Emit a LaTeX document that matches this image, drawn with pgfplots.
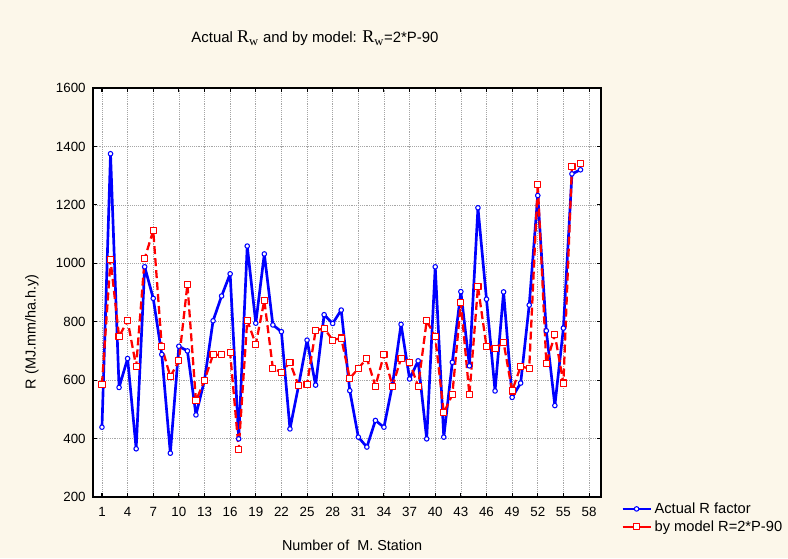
\documentclass[border=0pt]{standalone}
\usepackage{pgfplots}
\pgfplotsset{compat=1.18}
\usepackage{fontspec}
\setmainfont{Liberation Sans}
\newfontfamily\serifR{Liberation Serif}
\definecolor{paper}{HTML}{FCF7EA}
\definecolor{actblue}{HTML}{0000FF}
\definecolor{modred}{HTML}{FF0000}

\pgfplotstableread{
st act model
1 439 586
2 1375 1012
3 575 749
4 674 804
5 365 647
6 988 1017
7 880 1112
8 688 714
9 350 612
10 716 666
11 700 928
12 481 529
13 600 600
14 803 687
15 888 687
16 964 694
17 399 363
18 1059 805
19 795 723
20 1032 873
21 789 640
22 766 627
23 433 661
24 580 581
25 737 586
26 583 769
27 824 778
28 794 737
29 840 744
30 564 606
31 405 640
32 371 675
33 462 579
34 439 688
35 585 579
36 791 675
37 604 661
38 666 579
39 399 803
40 988 749
41 405 488
42 661 550
43 903 865
44 649 550
45 1190 920
46 877 715
47 563 708
48 902 729
49 541 563
50 590 647
51 857 640
52 1232 1271
53 769 658
54 513 755
55 778 590
56 1306 1332
57 1320 1341
}\stations

\begin{document}
\begin{tikzpicture}
\fill[paper] (-69.75pt,-45.75pt) rectangle (521.25pt,372.75pt);
\fill[white] (0,0) rectangle (381pt,306.75pt);
\begin{axis}[
  at={(0,0)}, anchor=south west,
  scale only axis, width=381pt, height=306.75pt,
  xmin=-0.05, xmax=59.4, ymin=200, ymax=1600,
  xtick={1,4,...,58}, ytick={200,400,...,1600},
  tick align=inside, major tick length=3pt,
  tick style={black, line width=0.8pt},
  axis line style={black, line width=1.5pt},
  grid=major, grid style={gray!70, densely dotted, line width=0.5pt},
  tick label style={font=\fontsize{10}{12}\selectfont},
  /pgf/number format/assume math mode=true,
  /pgf/number format/1000 sep={},
  xticklabel style={yshift=-4pt},
  yticklabel style={xshift=-2pt},
  xlabel={Number of\ \ M. Station},
  ylabel={R (MJ.mm/ha.h.y)},
  label style={font=\fontsize{10.8}{13}\selectfont},
  xlabel style={at={(rel axis cs:0.51,-0.1174)}, anchor=center},
  ylabel style={at={(rel axis cs:-0.1201,0.4035)}, anchor=center},
  title={Actual {\serifR\fontsize{13.5}{15}\selectfont R\textsubscript{w}} and by model: {\serifR\fontsize{13.5}{15}\selectfont R\textsubscript{w}}=2*P-90},
  title style={at={(rel axis cs:0.437,1.103)}, anchor=center, font=\fontsize{11.2}{13}\selectfont},
  legend style={at={(rel axis cs:1,0)}, anchor=north west, xshift=14pt, yshift=-1pt,
    draw=none, fill=none, font=\fontsize{11}{13}\selectfont, row sep=0pt,
    inner sep=1pt, nodes={inner sep=2pt}},
  legend cell align=left,
  legend image code/.code={
    \draw[#1, solid, mark repeat=2, mark phase=2] plot coordinates {(0pt,0pt) (10.5pt,0pt) (21pt,0pt)};},
]
\addplot[actblue, line width=2pt, line join=round, mark=*, mark size=1.7pt,
  mark options={solid, fill=white, draw=actblue, line width=0.8pt}]
  table[x=st, y=act] {\stations};
\addlegendentry{Actual R factor}
\addplot[modred, line width=1.7pt, line join=round, dash pattern=on 6pt off 3pt, mark=square*, mark size=2.3pt,
  mark options={solid, fill=white, draw=modred, line width=0.8pt}]
  table[x=st, y=model] {\stations};
\addlegendentry{by model R=2*P-90}
\end{axis}
\pgfresetboundingbox
\path[use as bounding box] (-69.75pt,-45.75pt) rectangle (521.25pt,372.75pt);
\end{tikzpicture}
\end{document}
